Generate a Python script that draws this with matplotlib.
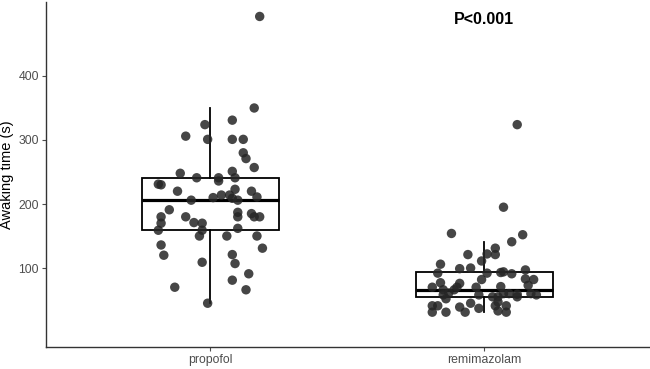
import numpy as np
import matplotlib
matplotlib.use("Agg")
import matplotlib.pyplot as plt

plt.rcParams['font.family'] = ['Liberation Sans', 'DejaVu Sans']

groups = ["propofol", "remimazolam"]

# awaking time (s) per patient, and horizontal jitter (in category units)
propofol_y = [493, 350, 331, 324, 306, 301, 301, 301, 280, 271, 257, 248, 251, 241, 241,
              241, 236, 231, 230, 220, 223, 220, 211, 214, 214, 209, 206, 210, 206, 191,
              180, 170, 159, 180, 171, 170, 159, 150, 187, 180, 185, 180, 180, 162, 150,
              150, 136, 120, 131, 109, 121, 107, 91, 81, 70, 66, 45]
propofol_dx = [0.18, 0.16, 0.08, -0.02, -0.09, -0.01, 0.08, 0.12, 0.12, 0.13, 0.16, -0.11,
               0.08, -0.05, 0.03, 0.09, 0.03, -0.19, -0.18, -0.12, 0.09, 0.15, 0.17, 0.04,
               0.07, 0.08, 0.10, 0.01, -0.07, -0.15, -0.18, -0.18, -0.19, -0.09, -0.06,
               -0.03, -0.03, -0.04, 0.10, 0.10, 0.15, 0.16, 0.18, 0.10, 0.06, 0.17, -0.18,
               -0.17, 0.19, -0.03, 0.08, 0.09, 0.14, 0.08, -0.13, 0.13, -0.01]

remi_y = [324, 195, 154, 152, 141, 121, 122, 121, 131, 111, 106, 99, 100, 92, 92, 93, 94,
          91, 97, 83, 82, 82, 77, 76, 70, 70, 70, 71, 73, 66, 66, 61, 58, 58, 60, 60, 59,
          60, 52, 55, 58, 41, 41, 39, 45, 47, 41, 41, 31, 31, 31, 37, 33, 31, 55, 55]
remi_dx = [0.12, 0.07, -0.12, 0.14, 0.10, -0.06, 0.01, 0.04, 0.04, -0.01, -0.16, -0.09,
           -0.05, -0.17, 0.01, 0.06, 0.07, 0.10, 0.15, 0.15, 0.18, -0.01, -0.16, -0.09,
           -0.19, -0.10, -0.03, 0.06, 0.16, -0.15, -0.11, -0.13, -0.15, -0.02, 0.07, 0.09,
           0.12, 0.17, -0.14, 0.05, 0.19, -0.19, -0.17, -0.09, -0.05, 0.05, 0.04, 0.08,
           -0.19, -0.14, -0.07, -0.02, 0.05, 0.08, 0.12, 0.03]

# box statistics
box_q1 = [159, 54]
box_med = [206, 65]
box_q3 = [240, 93]
whisk_lo = [45, 31]
whisk_hi = [350, 140]

p_text = "P<0.001"

fig, ax = plt.subplots(figsize=(6.5, 3.69), dpi=100)
fig.subplots_adjust(left=0.0708, right=0.998, bottom=0.0596, top=0.9946)

stats = []
for i in range(len(groups)):
    stats.append(dict(q1=box_q1[i], med=box_med[i], q3=box_q3[i],
                      whislo=whisk_lo[i], whishi=whisk_hi[i], fliers=[]))
ax.bxp(stats, positions=[1, 2], widths=0.5, showcaps=False, showfliers=False,
       patch_artist=True,
       boxprops=dict(facecolor="none", edgecolor="black", linewidth=1.3),
       medianprops=dict(color="black", linewidth=2.3),
       whiskerprops=dict(color="black", linewidth=1.3))

pts = [(propofol_y, propofol_dx), (remi_y, remi_dx)]
for i, (yy, dx) in enumerate(pts):
    xx = i + 1 + np.array(dx)
    ax.scatter(xx, yy, s=46, color="#262626", alpha=0.85, edgecolors="none", zorder=3)

ax.text(2, 489, p_text, ha="center", va="center", fontsize=11.5, fontweight="bold")

ax.set_xlim(0.4, 2.6)
ax.set_ylim(-23.4, 515.6)
ax.set_yticks([100, 200, 300, 400])
ax.set_xticks([1, 2])
ax.set_xticklabels(groups)
ax.set_ylabel("Awaking time (s)", fontsize=10.5, labelpad=3)
ax.tick_params(axis="both", labelsize=8.8, labelcolor="#4d4d4d", color="#4d4d4d",
               length=3, width=0.8, pad=2)
for s in ["top", "right"]:
    ax.spines[s].set_visible(False)
for s in ["left", "bottom"]:
    ax.spines[s].set_color("#333333")
    ax.spines[s].set_linewidth(1.0)

plt.savefig("out.png", dpi=100)
